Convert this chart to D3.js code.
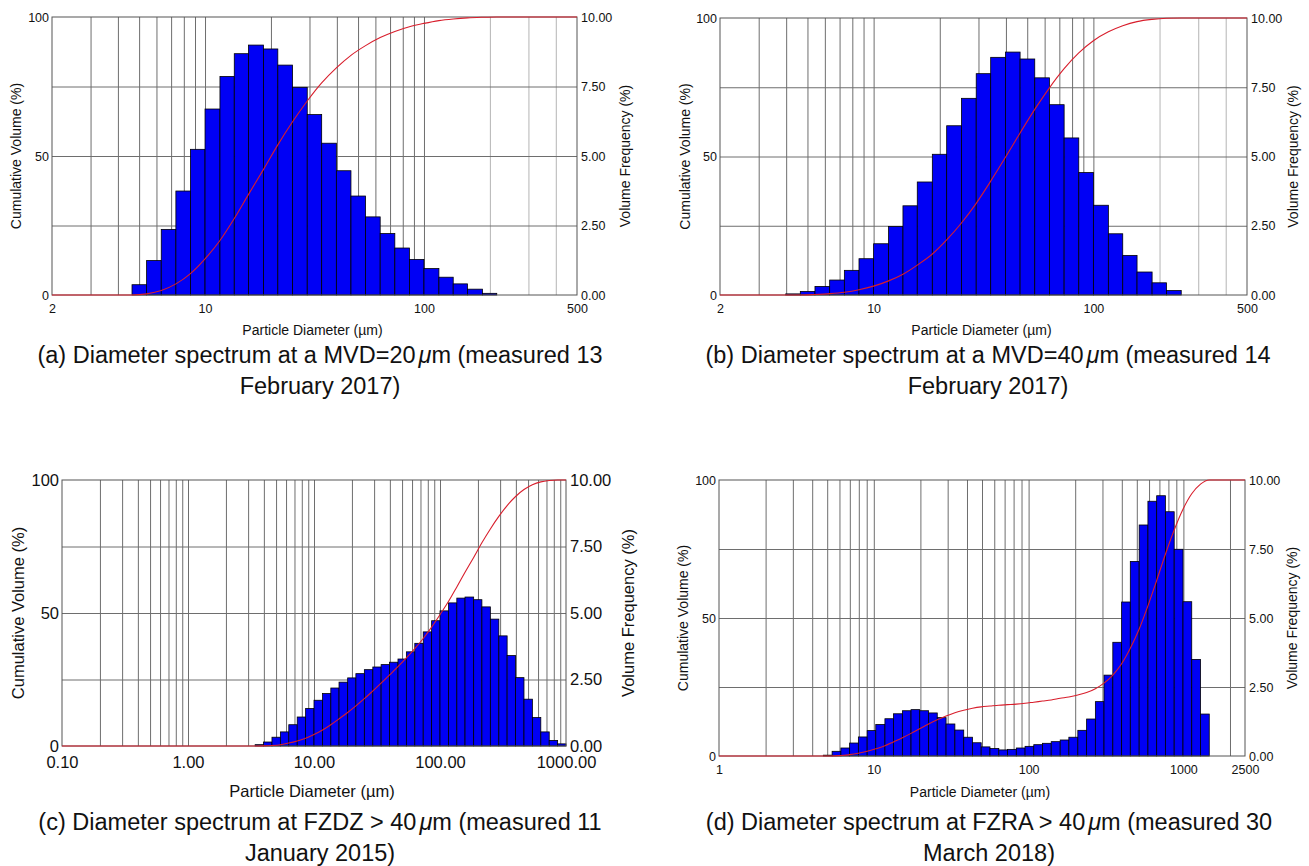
<!DOCTYPE html>
<html>
<head>
<meta charset="utf-8">
<script src="https://cdn.jsdelivr.net/npm/d3@7"></script>
<style>
  body { margin: 0; background: #fff; }
  svg text { font-family: "Liberation Sans", Arial, Helvetica, sans-serif; fill: #111; }
</style>
</head>
<body>
<svg id="fig" width="1309" height="866"></svg>
<script>
// bin edges (µm), 15 bins per decade, shared by (a), (b), (c)
const stdEdges = [3.41, 3.98, 4.64, 5.41, 6.31, 7.36, 8.58, 10, 11.7, 13.6, 15.8, 18.5, 21.5, 25.1, 29.3,
  34.1, 39.8, 46.4, 54.1, 63.1, 73.6, 85.8, 100, 117, 136, 158, 185, 215, 251, 293, 341, 398, 464,
  541, 631, 736, 858, 1000];

// (a) MVD = 20 µm
const aEdges = stdEdges.slice(2, 28);
const aFreq = [0.37, 1.24, 2.36, 3.74, 5.24, 6.69, 7.86, 8.68, 8.99, 8.85, 8.27, 7.47, 6.49, 5.46,
  4.47, 3.56, 2.81, 2.21, 1.69, 1.28, 0.95, 0.64, 0.40, 0.21, 0.06];
const aCum = [0.4, 1.6, 4.0, 7.7, 13.0, 19.6, 27.5, 36.2, 45.2, 54.0, 62.3, 69.8, 76.3, 81.7, 86.2,
  89.7, 92.6, 94.8, 96.5, 97.7, 98.7, 99.3, 99.7, 99.9, 100];

// (b) MVD = 40 µm
const bEdges = stdEdges.slice(1, 29);
const bFreq = [0.04, 0.13, 0.31, 0.54, 0.89, 1.31, 1.85, 2.47, 3.22, 4.08, 5.08, 6.11, 7.10, 7.99,
  8.58, 8.77, 8.52, 7.84, 6.87, 5.67, 4.42, 3.24, 2.21, 1.43, 0.83, 0.44, 0.16];
const bCum = [0.0, 0.2, 0.5, 1.0, 1.9, 3.2, 5.1, 7.5, 10.8, 14.8, 19.9, 26.0, 33.1, 41.1, 49.7, 58.5,
  67.0, 74.8, 81.7, 87.4, 91.8, 95.0, 97.2, 98.7, 99.5, 99.9, 100];

// (c) FZDZ
const cEdges = stdEdges.slice(0, 38);
const cFreq = [0.05, 0.15, 0.33, 0.53, 0.80, 1.09, 1.41, 1.72, 1.97, 2.18, 2.40, 2.56, 2.72, 2.87,
  2.97, 3.06, 3.15, 3.27, 3.54, 3.86, 4.29, 4.71, 5.08, 5.38, 5.56, 5.60, 5.50, 5.23, 4.77, 4.14,
  3.40, 2.57, 1.76, 1.07, 0.53, 0.21, 0.08];
const cCum = [0.05, 0.2, 0.5, 1.1, 1.9, 2.9, 4.3, 6.0, 8.0, 10.2, 12.6, 15.1, 17.8, 20.7, 23.6, 26.7,
  29.8, 33.1, 36.6, 40.4, 44.7, 49.4, 54.4, 59.8, 65.3, 70.9, 76.4, 81.6, 86.3, 90.4, 93.8, 96.4,
  98.2, 99.3, 99.8, 100, 100];

// (d) FZRA
const dEdges = [4.72, 5.38, 6.13, 6.98, 7.95, 9.06, 10.3, 11.8, 13.4, 15.3, 17.4, 19.8, 22.6, 25.7,
  29.3, 33.4, 38.1, 43.4, 49.4, 56.3, 64.2, 73.1, 83.3, 94.9, 108, 123, 140, 160, 182, 208, 237, 270,
  307, 350, 399, 454, 518, 590, 672, 765, 872, 994, 1132, 1290, 1469];
const dFreq = [0.03, 0.17, 0.29, 0.47, 0.69, 0.92, 1.14, 1.35, 1.53, 1.64, 1.68, 1.64, 1.56, 1.39,
  1.16, 0.94, 0.68, 0.48, 0.33, 0.27, 0.22, 0.24, 0.29, 0.35, 0.41, 0.46, 0.52, 0.58, 0.68, 0.93,
  1.34, 1.97, 2.93, 4.12, 5.58, 7.05, 8.37, 9.23, 9.43, 8.85, 7.49, 5.59, 3.50, 1.52];
const dCum = [0.0, 0.2, 0.5, 1.0, 1.7, 2.6, 3.7, 5.1, 6.6, 8.2, 9.9, 11.6, 13.1, 14.5, 15.7, 16.6,
  17.3, 17.8, 18.1, 18.4, 18.6, 18.8, 19.1, 19.5, 19.9, 20.3, 20.9, 21.4, 22.1, 23.0, 24.4, 26.4,
  29.3, 33.4, 39.0, 46.0, 54.4, 63.6, 73.1, 81.9, 89.4, 95.0, 98.5, 100];

// axes: x ranges, grid lines and tick labels
const domainAB = [2, 500];
const gridAB = [3, 4, 5, 6, 7, 8, 9, 10, 20, 30, 40, 50, 60, 70, 80, 90, 100, 200, 300, 400];
const lightAB = [200, 300, 400];
const ticksAB = [2, 10, 100, 500];
const domainC = [0.1, 1000];
const gridC = [0.2, 0.3, 0.4, 0.5, 0.6, 0.7, 0.8, 0.9, 1, 2, 3, 4, 5, 6, 7, 8, 9, 10, 20, 30, 40, 50,
  60, 70, 80, 90, 100, 200, 300, 400, 500, 600, 700, 800, 900];
const ticksC = [0.1, 1, 10, 100, 1000];
const domainD = [1, 2500];
const gridD = [2, 3, 4, 5, 6, 7, 8, 9, 10, 20, 30, 40, 50, 60, 70, 80, 90, 100, 200, 300, 400, 500,
  600, 700, 800, 900, 1000, 2000];
const ticksD = [1, 10, 100, 1000, 2500];
const cumTicks = [0, 50, 100];
const cumGrid = [25, 50, 75];
const freqTicks = [0, 2.5, 5, 7.5, 10];

const xTitle = "Particle Diameter (µm)";
const yLeftTitle = "Cumulative Volume (%)";
const yRightTitle = "Volume Frequency (%)";

const captionA = ["(a) Diameter spectrum at a MVD=20", "m (measured 13", "February 2017)"];
const captionB = ["(b) Diameter spectrum at a MVD=40", "m (measured 14", "February 2017)"];
const captionC = ["(c) Diameter spectrum at FZDZ > 40", "m (measured 11", "January 2015)"];
const captionD = ["(d) Diameter spectrum at FZRA > 40", "m (measured 30", "March 2018)"];

const svg = d3.select("#fig");

function drawPanel(p) {
  const g = svg.append("g");
  const x = d3.scaleLog().domain(p.domain).range([p.left, p.right]);
  const yL = d3.scaleLinear().domain([0, 100]).range([p.bottom, p.top]);
  const yR = d3.scaleLinear().domain([0, 10]).range([p.bottom, p.top]);
  const light = p.light || [];

  // vertical grid
  g.append("g")
    .attr("transform", `translate(0,${p.bottom})`)
    .call(d3.axisBottom(x).tickValues(p.grid).tickSize(-(p.bottom - p.top)).tickFormat(""))
    .call(s => s.select(".domain").remove())
    .call(s => s.selectAll("line")
      .attr("stroke", d => light.includes(d) ? "#b4b4b4" : "#6e6e6e")
      .attr("stroke-width", 1));
  // horizontal grid
  g.append("g")
    .attr("transform", `translate(${p.left},0)`)
    .call(d3.axisLeft(yL).tickValues(cumGrid).tickSize(-(p.right - p.left)).tickFormat(""))
    .call(s => s.select(".domain").remove())
    .call(s => s.selectAll("line").attr("stroke", "#6e6e6e").attr("stroke-width", 1));

  // bars
  g.append("g").selectAll("rect")
    .data(p.freq)
    .join("rect")
    .attr("x", (d, i) => x(p.edges[i]))
    .attr("width", (d, i) => x(p.edges[i + 1]) - x(p.edges[i]))
    .attr("y", d => yR(d))
    .attr("height", d => yR(0) - yR(d))
    .attr("fill", "#0000f5")
    .attr("stroke", "#000")
    .attr("stroke-width", 0.8);

  // frame
  g.append("rect")
    .attr("x", p.left).attr("y", p.top)
    .attr("width", p.right - p.left).attr("height", p.bottom - p.top)
    .attr("fill", "none").attr("stroke", "#555").attr("stroke-width", 1);

  // cumulative curve
  const pts = [[p.domain[0], 0], [p.edges[0], 0]];
  p.cum.forEach((c, i) => pts.push([p.edges[i + 1], c]));
  pts.push([p.domain[1], 100]);
  g.append("path")
    .datum(pts)
    .attr("fill", "none")
    .attr("stroke", "#d81e2c")
    .attr("stroke-width", 1.1)
    .attr("d", d3.line().x(d => x(d[0])).y(d => yL(d[1])).curve(d3.curveMonotoneX));

  // axes with labels
  const fs = p.tickFs;
  g.append("g")
    .attr("transform", `translate(${p.left},0)`)
    .call(d3.axisLeft(yL).tickValues(cumTicks).tickSize(0).tickPadding(3).tickFormat(d3.format("d")))
    .call(s => s.select(".domain").remove())
    .call(s => s.selectAll("text").attr("font-size", fs).attr("font-family", null));
  g.append("g")
    .attr("transform", `translate(${p.right},0)`)
    .call(d3.axisRight(yR).tickValues(freqTicks).tickSize(0).tickPadding(4).tickFormat(d3.format(".2f")))
    .call(s => s.select(".domain").remove())
    .call(s => s.selectAll("text").attr("font-size", fs).attr("font-family", null));
  g.append("g")
    .attr("transform", `translate(0,${p.bottom})`)
    .call(d3.axisBottom(x).tickValues(p.ticks).tickSize(0).tickPadding(p.xPad).tickFormat(p.fmt))
    .call(s => s.select(".domain").remove())
    .call(s => s.selectAll("text").attr("font-size", fs).attr("font-family", null));

  // axis titles
  const midY = (p.top + p.bottom) / 2;
  g.append("text")
    .attr("transform", `translate(${p.left - p.lOff},${midY}) rotate(-90)`)
    .attr("text-anchor", "middle").attr("dy", "0.35em")
    .attr("font-size", p.titleFs).text(yLeftTitle);
  g.append("text")
    .attr("transform", `translate(${p.right + p.rOff},${midY}) rotate(-90)`)
    .attr("text-anchor", "middle").attr("dy", "0.35em")
    .attr("font-size", p.titleFs).text(yRightTitle);
  g.append("text")
    .attr("x", (p.left + p.right) / 2 - 2).attr("y", p.bottom + p.bOff)
    .attr("text-anchor", "middle").attr("dy", "0.35em")
    .attr("font-size", p.titleFs).text(xTitle);

  // caption
  const cap = svg.append("text")
    .attr("x", p.capX).attr("y", p.capY)
    .attr("text-anchor", "middle").attr("font-size", 23.5);
  cap.append("tspan").text(p.caption[0]);
  cap.append("tspan").attr("dx", 3).attr("font-style", "italic").text("μ");
  cap.append("tspan").text(p.caption[1]);
  svg.append("text")
    .attr("x", p.capX).attr("y", p.capY + 31)
    .attr("text-anchor", "middle").attr("font-size", 23.5)
    .text(p.caption[2]);
}

const intFmt = d3.format("d");
const dec2 = d3.format(".2f");

drawPanel({ domain: domainAB, grid: gridAB, light: lightAB, ticks: ticksAB, fmt: intFmt,
  edges: aEdges, freq: aFreq, cum: aCum, caption: captionA,
  left: 52, right: 577, top: 17, bottom: 295, tickFs: 12.5, titleFs: 14, xPad: 9,
  lOff: 36, rOff: 48, bOff: 35, capX: 320, capY: 363 });

drawPanel({ domain: domainAB, grid: gridAB, light: lightAB, ticks: ticksAB, fmt: intFmt,
  edges: bEdges, freq: bFreq, cum: bCum, caption: captionB,
  left: 720, right: 1247, top: 18, bottom: 295, tickFs: 12.5, titleFs: 14, xPad: 9,
  lOff: 35, rOff: 46, bOff: 35, capX: 988, capY: 363 });

drawPanel({ domain: domainC, grid: gridC, ticks: ticksC, fmt: dec2,
  edges: cEdges, freq: cFreq, cum: cCum, caption: captionC,
  left: 62, right: 566, top: 480, bottom: 746, tickFs: 16.5, titleFs: 16.5, xPad: 10,
  lOff: 44, rOff: 62, bOff: 45, capX: 320, capY: 830 });

drawPanel({ domain: domainD, grid: gridD, ticks: ticksD, fmt: intFmt,
  edges: dEdges, freq: dFreq, cum: dCum, caption: captionD,
  left: 719, right: 1245, top: 480, bottom: 756, tickFs: 12.5, titleFs: 14, xPad: 9,
  lOff: 36, rOff: 47, bOff: 36, capX: 989, capY: 830 });
</script>
</body>
</html>
